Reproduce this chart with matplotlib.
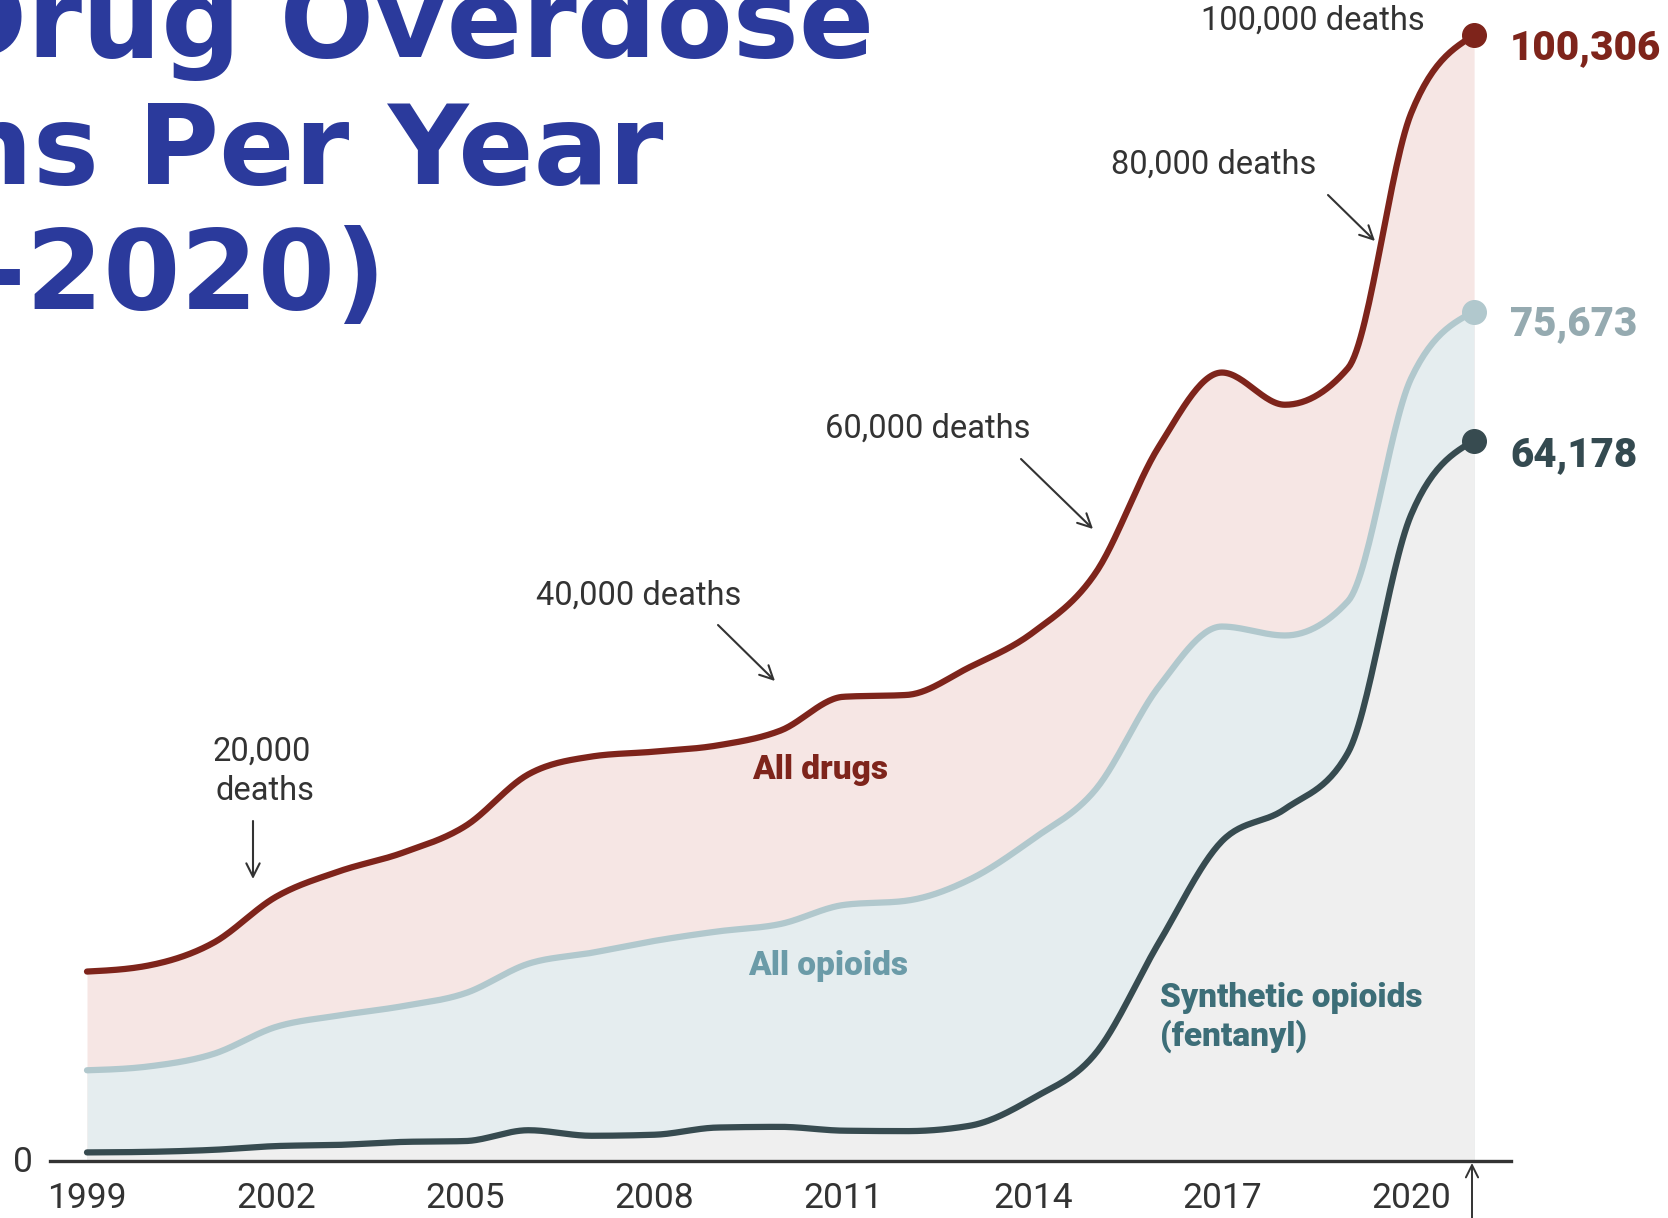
import numpy as np
import matplotlib
matplotlib.use("Agg")
import matplotlib.pyplot as plt

# Overdose deaths per year (last point: 12 months ending April 2021)
years = [1999, 2000, 2001, 2002, 2003, 2004, 2005, 2006, 2007, 2008, 2009, 2010,
         2011, 2012, 2013, 2014, 2015, 2016, 2017, 2018, 2019, 2020, 2021]
all_drugs = [16849, 17415, 19394, 23518, 25785, 27424, 29813, 34425, 36010, 36450,
             37004, 38329, 41340, 41502, 43982, 47055, 52404, 63632, 70237, 67367,
             70630, 93331, 100306]
all_opioids = [8050, 8407, 9496, 11920, 12940, 13756, 14918, 17545, 18516, 19582,
               20422, 21089, 22784, 23166, 25052, 28647, 33091, 42249, 47600, 46802,
               49860, 69710, 75673]
synthetic = [730, 782, 957, 1295, 1400, 1664, 1742, 2707, 2213, 2306, 2946, 3007,
             2666, 2628, 3105, 5544, 9580, 19413, 28466, 31335, 36359, 57550, 64178]
tick_years = [1999, 2002, 2005, 2008, 2011, 2014, 2017, 2020]
milestones = ["20,000\ndeaths", "40,000 deaths", "60,000 deaths", "80,000 deaths",
              "100,000 deaths"]

W, H, DPI = 1668, 1218, 100
plt.rcParams['font.family'] = ['Roboto', 'DejaVu Sans']

fig = plt.figure(figsize=(W / DPI, H / DPI), dpi=DPI)
ax = fig.add_axes([0, 0, 1, 1])
ax.set_axis_off()

# pixel layout of the plotting frame
X0, DX = 87.0, 63.05        # x pixel of 1999, pixels per year
Y0, DY = 1160.6, 11.22      # y pixel (from top) of zero, pixels per 1000 deaths
ax.set_xlim(1999 - X0 / DX, 1999 + (W - X0) / DX)
ax.set_ylim((Y0 - H) / DY * 1000, Y0 / DY * 1000)


def P(px, py):
    """pixel position (from top-left) -> data coordinates"""
    return 1999 + (px - X0) / DX, (Y0 - py) / DY * 1000


def monotone(x, y, n=30):
    x = np.asarray(x, float)
    y = np.asarray(y, float)
    h = np.diff(x)
    s = np.diff(y) / h
    t = np.zeros_like(y)
    sg = lambda v: -1.0 if v < 0 else 1.0
    for i in range(1, len(x) - 1):
        h0, h1, s0, s1 = h[i - 1], h[i], s[i - 1], s[i]
        p = (s0 * h1 + s1 * h0) / (h0 + h1)
        t[i] = (sg(s0) + sg(s1)) * min(abs(s0), abs(s1), 0.5 * abs(p))
    t[0] = (3 * s[0] - t[1]) / 2
    t[-1] = (3 * s[-1] - t[-2]) / 2
    xs, ys = [], []
    for i in range(len(x) - 1):
        u = np.linspace(0, 1, n, endpoint=(i == len(x) - 2))
        hh = h[i]
        h00 = 2 * u**3 - 3 * u**2 + 1
        h10 = u**3 - 2 * u**2 + u
        h01 = -2 * u**3 + 3 * u**2
        h11 = u**3 - u**2
        xs.append(x[i] + u * hh)
        ys.append(h00 * y[i] + h10 * hh * t[i] + h01 * y[i + 1] + h11 * hh * t[i + 1])
    return np.concatenate(xs), np.concatenate(ys)


series = [
    (all_drugs, "#7e241b", "#f6e6e4"),
    (all_opioids, "#b1c8cd", "#e5edef"),
    (synthetic, "#374b50", "#efefef"),
]
curves = []
for vals, lc, fc in series:
    sx, sy = monotone(years, vals)
    ax.fill_between(sx, sy, 0, color=fc, lw=0, zorder=1)
    curves.append((sx, sy, lc))
for sx, sy, lc in curves:
    ax.plot(sx, sy, color=lc, lw=4.5, solid_capstyle='round', zorder=3)
for vals, lc, fc in series:
    ax.plot(years[-1], vals[-1], 'o', color=lc, ms=17, zorder=4)

# baseline
ax.axhline(0, xmin=50 / W, xmax=1511 / W, color="#333333", lw=2.4, zorder=5)
ax.annotate("", xy=P(1472, 1163), xytext=P(1472, 1222),
            arrowprops=dict(arrowstyle="->", color="#333333", lw=1.4,
                            mutation_scale=22, shrinkA=0, shrinkB=0), zorder=5)

tick_kw = dict(fontsize=25.5, color="#333333", ha="center", va="center")
for yr in tick_years:
    ax.text(yr, P(0, 1199)[1], str(yr), **tick_kw)
ax.text(*P(23, 1162), "0", **tick_kw)

# milestone annotations
ann_kw = dict(fontsize=23.5, color="#333333", ha="center", va="center")
arrow_kw = dict(arrowstyle="->", color="#333333", lw=1.5, mutation_scale=24,
                shrinkA=0, shrinkB=0)
ax.text(*P(262, 752), milestones[0].split("\n")[0], **ann_kw)
ax.text(*P(265, 791), milestones[0].split("\n")[1], **ann_kw)
ax.annotate("", xy=P(253, 879), xytext=P(253, 821), arrowprops=arrow_kw)

ax.text(*P(639, 596), milestones[1], **ann_kw)
ax.annotate("", xy=P(775, 681), xytext=P(718, 625), arrowprops=arrow_kw)

ax.text(*P(928, 429), milestones[2], **ann_kw)
ax.annotate("", xy=P(1093, 529), xytext=P(1021, 459), arrowprops=arrow_kw)

ax.text(*P(1214, 165), milestones[3], **ann_kw)
ax.annotate("", xy=P(1375, 241), xytext=P(1328, 195), arrowprops=arrow_kw)

ax.text(*P(1313, 21), milestones[4], **ann_kw)

# series labels
lab_kw = dict(fontsize=24, fontweight="heavy", va="center")
ax.text(*P(820, 770), "All drugs", color="#7e241b", ha="center", **lab_kw)
ax.text(*P(828, 966), "All opioids", color="#6b9ba8", ha="center", **lab_kw)
ax.text(*P(1160, 998), "Synthetic opioids", color="#3d6e78", ha="left", **lab_kw)
ax.text(*P(1160, 1036), "(fentanyl)", color="#3d6e78", ha="left", **lab_kw)

end_kw = dict(fontsize=29, fontweight="heavy", va="center", ha="left")
ax.text(*P(1510, 48), f"{all_drugs[-1]:,}", color="#7e241b", **end_kw)
ax.text(*P(1510, 324), f"{all_opioids[-1]:,}", color="#95aab0", **end_kw)
ax.text(*P(1510, 455), f"{synthetic[-1]:,}", color="#344a50", **end_kw)

# headline, set to run off the left edge
title_kw = dict(fontsize=80, fontweight="bold", color="#2b3a9c", ha="right",
                va="baseline", family=["DejaVu Sans"])
fig.text(874 / W, 1 - 57 / H, "Drug Overdose", **title_kw)
fig.text(663 / W, 1 - 184 / H, "Deaths Per Year", **title_kw)
fig.text(386 / W, 1 - 309 / H, "(1999-2020)", **title_kw)

fig.savefig("out.png", dpi=DPI)
